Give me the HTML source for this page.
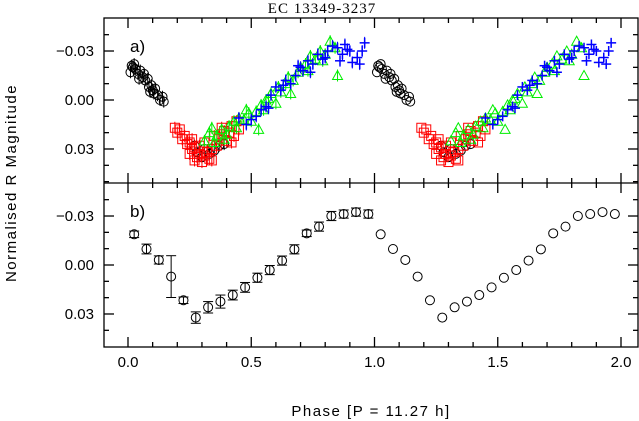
<!DOCTYPE html>
<html><head><meta charset="utf-8"><style>
body{margin:0;background:#fff;width:639px;height:421px;overflow:hidden}
svg{display:block}
text{font-family:"Liberation Sans",sans-serif;font-size:15px;fill:#000}
</style></head><body>
<svg id="chart" width="639" height="421">
<text x="322" y="13" text-anchor="middle" style="font-family:'Liberation Serif',serif;font-size:15px;letter-spacing:1px">EC 13349-3237</text>
<text x="0" y="0" transform="translate(16,183) rotate(-90)" text-anchor="middle" style="letter-spacing:1.5px">Normalised R Magnitude</text>
<text x="371" y="416" text-anchor="middle" style="letter-spacing:1.5px">Phase [P = 11.27 h]</text>
<text x="130" y="52" style="font-size:17px">a)</text>
<text x="130" y="217" style="font-size:17px">b)</text>
</svg>
<script>
const binPhase=[0.025,0.075,0.125,0.175,0.225,0.275,0.325,0.375,0.425,0.475,0.525,0.575,0.625,0.675,0.725,0.775,0.825,0.875,0.925,0.975];
const binMag=[-0.0188,-0.0098,-0.0031,0.0071,0.0216,0.0322,0.0259,0.0224,0.0184,0.0137,0.0078,0.0031,-0.0027,-0.0096,-0.0194,-0.0235,-0.030,-0.0312,-0.0324,-0.0312];
const binErr=[0.002,0.003,0.0025,0.0128,0.002,0.0035,0.0035,0.004,0.003,0.003,0.0028,0.0028,0.0028,0.0028,0.002,0.0028,0.0028,0.0025,0.0025,0.0025];
const blackPh=[0.01,0.02,0.025,0.03,0.04,0.05,0.06,0.065,0.07,0.08,0.085,0.09,0.1,0.105,0.11,0.12,0.13,0.14,0.145,0.27,0.28,0.3,0.31,0.33,0.35,0.37,0.39,0.015,0.045,0.095];
const blackMag=[-0.017,-0.02,-0.022,-0.019,-0.016,-0.018,-0.014,-0.016,-0.012,-0.013,-0.008,-0.005,-0.006,-0.004,-0.007,-0.003,0.0,-0.002,0.001,0.028,0.032,0.035,0.03,0.033,0.031,0.028,0.027,-0.021,-0.013,-0.009];
const redPh=[0.19,0.2,0.21,0.22,0.23,0.24,0.25,0.26,0.27,0.28,0.29,0.3,0.31,0.32,0.33,0.34,0.35,0.36,0.37,0.38,0.39,0.4,0.41,0.42,0.43,0.44,0.45,0.26,0.29,0.27,0.31,0.34,0.38,0.42,0.25];
const redMag=[0.017,0.02,0.018,0.024,0.022,0.027,0.026,0.03,0.037,0.035,0.033,0.038,0.026,0.032,0.036,0.03,0.022,0.028,0.024,0.021,0.019,0.025,0.02,0.016,0.022,0.013,0.018,0.024,0.028,0.029,0.034,0.037,0.017,0.026,0.033];
const greenPh=[0.31,0.33,0.35,0.36,0.38,0.39,0.41,0.43,0.45,0.47,0.49,0.5,0.52,0.54,0.55,0.57,0.58,0.6,0.62,0.64,0.65,0.67,0.69,0.7,0.72,0.74,0.76,0.78,0.8,0.82,0.84,0.85,0.53,0.66,0.34,0.4,0.44,0.48,0.56,0.61,0.73,0.79];
const greenMag=[0.025,0.02,0.026,0.022,0.018,0.024,0.016,0.013,0.011,0.012,0.008,0.013,0.007,0.003,0.006,-0.001,-0.004,0.002,-0.005,-0.01,-0.014,-0.012,-0.017,-0.02,-0.022,-0.027,-0.025,-0.03,-0.028,-0.036,-0.032,-0.015,0.018,-0.004,0.017,0.021,0.017,0.006,0.0,-0.008,-0.018,-0.024];
const bluePh=[0.48,0.5,0.52,0.54,0.56,0.58,0.6,0.62,0.64,0.66,0.68,0.7,0.71,0.73,0.75,0.77,0.79,0.81,0.83,0.85,0.87,0.88,0.9,0.91,0.93,0.95,0.96,0.94,0.45,0.57,0.63,0.69,0.74,0.8,0.86,0.89];
const blueMag=[0.015,0.012,0.01,0.006,0.004,-0.003,-0.008,-0.006,-0.012,-0.01,-0.015,-0.02,-0.018,-0.024,-0.022,-0.028,-0.025,-0.03,-0.033,-0.032,-0.028,-0.034,-0.03,-0.023,-0.026,-0.03,-0.035,-0.022,0.011,0.005,-0.009,-0.021,-0.017,-0.026,-0.024,-0.031];
const xTicks=[0.0,0.5,1.0,1.5,2.0];
const xTickLabels=["0.0","0.5","1.0","1.5","2.0"];
const yTicks=[-0.03,0.00,0.03];
const yTickLabels=["\u22120.03","0.00","0.03"];

const svg=document.getElementById('chart');const NS='http://www.w3.org/2000/svg';
const L=104,R=638,T=18,M=183,B=347;
const X=p=>128+(p-0)*246.5;
const YA=m=>100+m*1633;
const YB=m=>265+m*1633;
function el(t,a,p){const e=document.createElementNS(NS,t);for(const k in a)e.setAttribute(k,a[k]);(p||svg).appendChild(e);return e;}
const ax=el('g',{stroke:'#000','stroke-width':1.3,fill:'none'});


el('rect',{x:L,y:T,width:R-L,height:B-T},ax);
el('line',{x1:L,y1:M,x2:R,y2:M},ax);
for(let i=-1;i<=20;i++){const p=i/10,x=X(p);if(x<L||x>R)continue;const len=(i%5===0)?10:5;
 [[T,1],[M,-1],[M,1],[B,-1]].forEach(([y,d])=>el('line',{x1:x,y1:y,x2:x,y2:y+d*len},ax));}
[[YA,T,M],[YB,M,B]].forEach(([f,t,b])=>{for(let k=-5;k<=5;k++){const y=f(k/100);if(y<=t+1||y>=b-1)continue;const len=(k%3===0)?10:5;
 el('line',{x1:L,y1:y,x2:L+len,y2:y},ax);el('line',{x1:R,y1:y,x2:R-len,y2:y},ax);}});
xTicks.forEach((v,i)=>{const t=el('text',{x:X(v),y:367,'text-anchor':'middle'});t.textContent=xTickLabels[i];

});
[YA,YB].forEach(f=>yTicks.forEach((v,i)=>{const t=el('text',{x:94,y:f(v)+5,'text-anchor':'end'});t.textContent=yTickLabels[i];

}));
function marker(kind,x,y,col,g){
 if(kind==='c')el('circle',{cx:x,cy:y,r:4.5,stroke:col,fill:'none','stroke-width':1},g);
 else if(kind==='s')el('rect',{x:x-4.5,y:y-4.5,width:9,height:9,stroke:col,fill:'none','stroke-width':1},g);
 else if(kind==='t')el('polygon',{points:`${x},${y-5} ${x-5},${y+4} ${x+5},${y+4}`,stroke:col,fill:'none','stroke-width':1},g);
 else {el('line',{x1:x-5,y1:y,x2:x+5,y2:y,stroke:col,'stroke-width':1.5},g);el('line',{x1:x,y1:y-5,x2:x,y2:y+5,stroke:col,'stroke-width':1.5},g);}
}
[['c',blackPh,blackMag,'#000','black-circle-series'],['s',redPh,redMag,'#f00','red-square-series'],['t',greenPh,greenMag,'#0e0','green-triangle-series'],['p',bluePh,blueMag,'#00f','blue-plus-series']].forEach(([k,ph,mg,col,name])=>{
 const g=el('g',{});
 
 
 ph.forEach((p,i)=>{const y=YA(mg[i]);
  el('line',{x1:X(p),y1:y-6,x2:X(p),y2:y+6,stroke:col,'stroke-width':1},g);
  marker(k,X(p),y,col,g);marker(k,X(p+1),y,col,g);});
});
const gb=el('g',{});


binPhase.forEach((p,i)=>{const x=X(p),y=YB(binMag[i]),e=binErr[i]*1633;
 el('line',{x1:x,y1:y-e,x2:x,y2:y+e,stroke:'#000','stroke-width':1},gb);
 el('line',{x1:x-5,y1:y-e,x2:x+5,y2:y-e,stroke:'#000','stroke-width':1},gb);
 el('line',{x1:x-5,y1:y+e,x2:x+5,y2:y+e,stroke:'#000','stroke-width':1},gb);
 marker('c',x,y,'#000',gb);marker('c',X(p+1),y,'#000',gb);});
</script>
</body></html>
